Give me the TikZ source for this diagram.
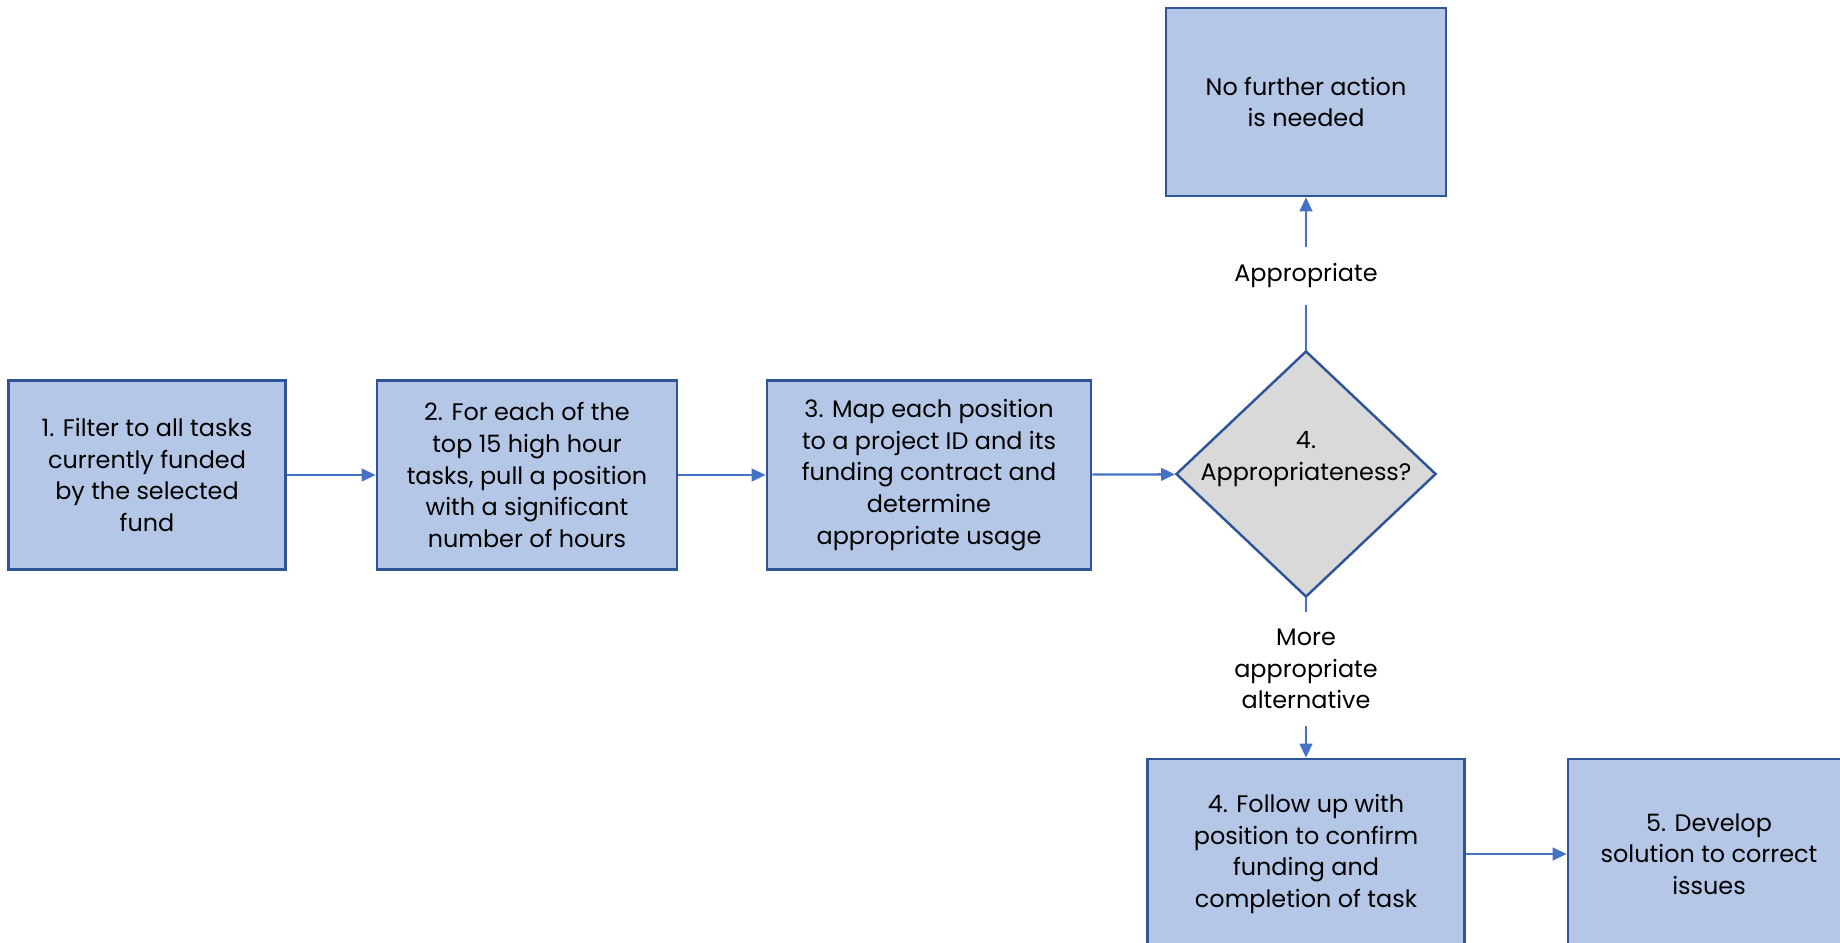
\documentclass[tikz,border=0pt]{standalone}
\usepackage{fontspec}
\setmainfont{Poppins}
\usetikzlibrary{shapes.geometric,arrows.meta}
\definecolor{boxfill}{RGB}{180,199,231}
\definecolor{boxline}{RGB}{47,85,151}
\definecolor{flowblue}{RGB}{68,114,196}
\definecolor{decfill}{RGB}{217,217,217}

\begin{document}
\begin{tikzpicture}[x=0.01cm, y=-0.01cm,
  stepbox/.style={draw=boxline, fill=boxfill, line width=0.7pt, align=center,
    inner sep=0pt, minimum height=1.89cm, font=\fontsize{6.8}{9}\selectfont},
  decision/.style={draw=boxline, fill=decfill, line width=0.7pt, shape=diamond,
    inner sep=0pt, minimum width=2.6cm, minimum height=2.46cm},
  answer/.style={align=center, inner sep=4.5pt, font=\fontsize{6.8}{9}\selectfont},
  link/.style={draw=flowblue, line width=0.65pt},
  flow/.style={link, -{Triangle[length=4pt,width=3.6pt]}}]
  \useasboundingbox (0,0) rectangle (1840,943);
  %% 1. Steps
  \node[stepbox, minimum width=2.77cm] (filter) at (147,475)
    {1. Filter to all tasks\\currently funded\\by the selected\\fund};
  \node[stepbox, minimum width=3.00cm] (pull) at (527,475)
    {2. For each of the\\top 15 high hour\\tasks, pull a position\\with a significant\\number of hours};
  \node[stepbox, minimum width=3.24cm] (map) at (929,475)
    {3. Map each position\\to a project ID and its\\funding contract and\\determine\\appropriate usage};
  \node[decision] (check) at (1306,474) {};
  \node[answer, inner sep=0pt] (checktxt) at (1306,459) {4.\\Appropriateness?};
  \node[stepbox, minimum width=2.80cm, minimum height=1.88cm] (done) at (1306,102)
    {No further action\\is needed};
  \node[stepbox, minimum width=3.17cm, minimum height=1.90cm] (follow) at (1306,854)
    {4. Follow up with\\position to confirm\\funding and\\completion of task};
  \node[stepbox, minimum width=2.82cm, minimum height=1.90cm] (solve) at (1709,854)
    {5. Develop\\solution to correct\\issues};
  %% 2. Answers
  \node[answer] (yes) at (1306,276) {Appropriate};
  \node[answer] (no) at (1306,669) {More\\appropriate\\alternative};
  %% 3. Connectors
  \draw[flow] (filter) -- (pull);
  \draw[flow] (pull) -- (map);
  \draw[flow] (map) -- (check);
  \draw[link] (check.north) -- (yes);
  \draw[flow] (yes) -- (done);
  \draw[link] (check.south) -- (no);
  \draw[flow] (no) -- (follow);
  \draw[flow] (follow) -- (solve);
\end{tikzpicture}
\end{document}
